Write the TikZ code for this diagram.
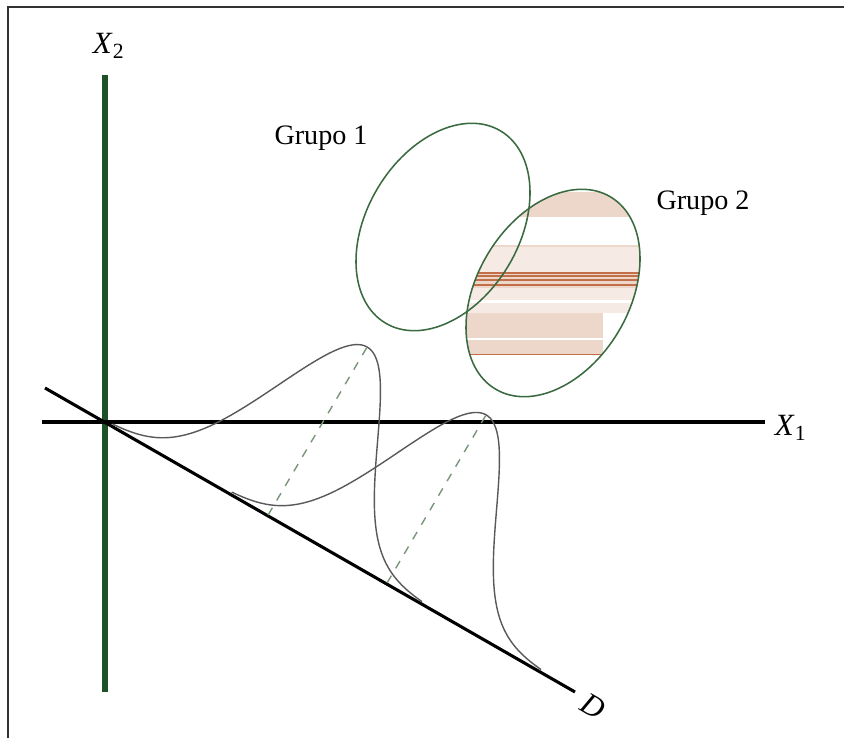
\documentclass[tikz,border=0pt]{standalone}
\usepackage{fontspec}
\setmainfont{Liberation Serif}
\definecolor{verdeeje}{HTML}{1E5128}
\definecolor{verdeelipse}{HTML}{3A6A40}
\definecolor{durazno}{HTML}{EDD7CA}
\definecolor{duraznoclaro}{HTML}{F5EAE4}
\definecolor{ladrillo}{HTML}{C26E48}
\definecolor{grisguia}{HTML}{7A957A}
\tikzset{
  eje/.style={line width=1.1pt, black},
  elipse/.style={line width=0.55pt, verdeelipse},
  curva/.style={line width=0.5pt, black!65, smooth, samples=120},
  guia/.style={line width=0.5pt, grisguia, dash pattern=on 3pt off 3pt},
  etiqueta/.style={font=\fontsize{11}{13}\selectfont},
  grupo/.style={anchor=base west, inner sep=0pt},
}
\begin{document}
\begin{tikzpicture}[x=0.0125cm, y=-0.0125cm, >=latex]
    \useasboundingbox (0,0) rectangle (844,738);

    % 0. Marco
    \draw[line width=0.7pt, black!80] (844,7) -- (8,7) -- (8,738);

    % 1. Ejes X1, X2 y la recta D
    \coordinate (O) at (105,422);
    \coordinate (x2ini) at (105,75);
    \coordinate (x2fin) at (105,692);
    \coordinate (x1ini) at (42,422);
    \coordinate (x1fin) at (765,422);
    \coordinate (dini) at (45,388);
    \coordinate (dfin) at (575,692);
    \draw[line width=1.8pt, verdeeje] (x2ini) -- (x2fin);
    \draw[eje] (x1ini) -- (x1fin);
    \draw[eje] (dini) -- (dfin);
    \node[etiqueta] (lx1) at (791,428) {\textit{X}\textsubscript{1}};
    \node[etiqueta] (lx2) at (109,46) {\textit{X}\textsubscript{2}};
    \node[etiqueta, rotate=-30] (ld) at (593,706) {\textit{D}};

    % 2. Relleno a franjas del grupo 2
    \begin{scope}
        \clip[rotate around={59:(553,293)}] (553,293) ellipse [x radius=112, y radius=76];
        \fill[durazno] (460,192) rectangle (645,217);
        \fill[durazno] (460,245) rectangle (645,247);
        \fill[duraznoclaro] (460,247) rectangle (645,272);
        \fill[durazno] (460,272) rectangle (645,288);
        \foreach \yy in {273,276,280,285}
            \draw[ladrillo, line width=0.5pt] (460,\yy) -- (645,\yy);
        \fill[duraznoclaro] (460,288) rectangle (645,300);
        \fill[duraznoclaro] (460,303) rectangle (645,313);
        \fill[durazno] (460,313) rectangle (603,338);
        \fill[durazno] (460,340) rectangle (603,354);
        \draw[ladrillo, line width=0.6pt] (460,354.5) -- (602,354.5);
    \end{scope}

    % 3. Elipses de los grupos
    \draw[elipse, rotate around={59:(443,227)}] (443,227) ellipse [x radius=112, y radius=76];
    \draw[elipse, rotate around={59:(553,293)}] (553,293) ellipse [x radius=112, y radius=76];
    \node[grupo] (g1) at (274,145) {Grupo 1};
    \node[grupo] (g2) at (656,210) {Grupo 2};

    % 4. Distribuciones proyectadas sobre D
    \draw[curva, domain=-3.16:3.1]
        plot ({268.1+49.4*\x+99*exp(-\x*\x/2)}, {515+28.4*\x-168*exp(-\x*\x/2)});
    \draw[curva, domain=-3.16:3.1]
        plot ({387.1+49.4*\x+99*exp(-\x*\x/2)}, {582.9+28.4*\x-168*exp(-\x*\x/2)});

    % 5. Guias punteadas desde D hasta los maximos
    \coordinate (c1) at (268.1,515);
    \coordinate (p1) at (367.1,347);
    \coordinate (c2) at (387.1,582.9);
    \coordinate (p2) at (486.1,414.9);
    \draw[guia] (c1) -- (p1);
    \draw[guia] (c2) -- (p2);

\end{tikzpicture}
\end{document}
